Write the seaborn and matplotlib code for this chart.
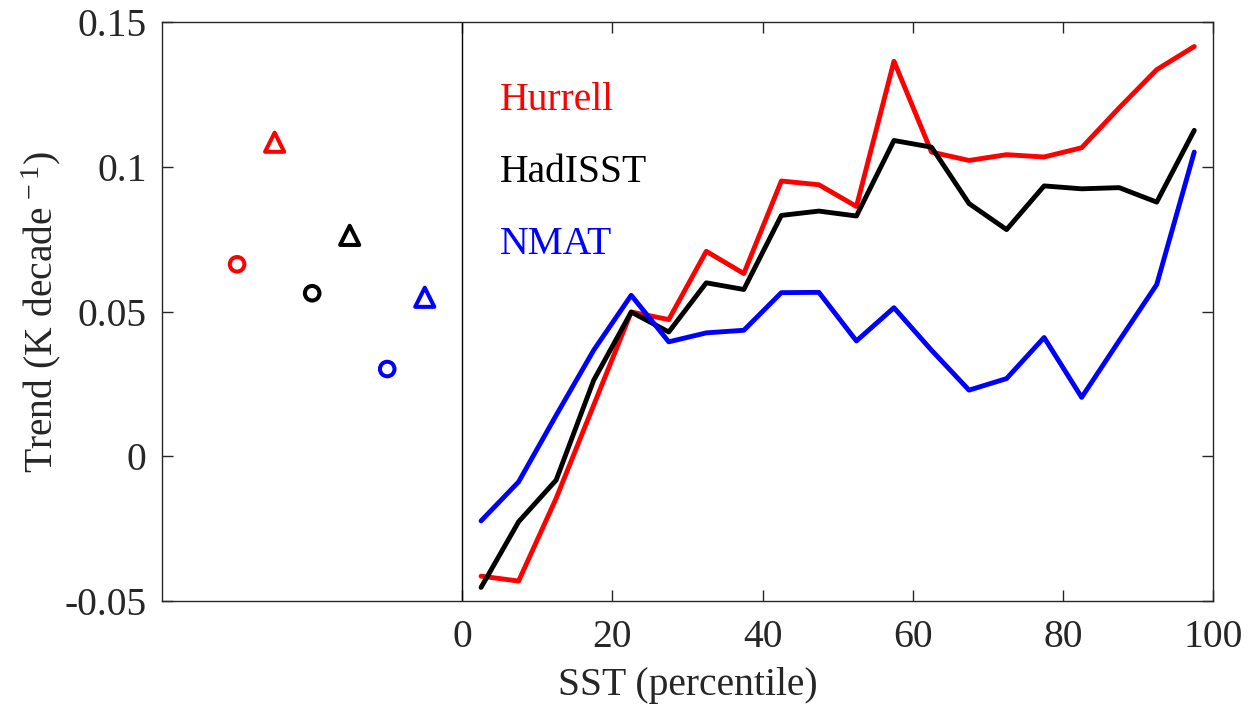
import numpy as np
import pandas as pd
import matplotlib
matplotlib.use("Agg")
import matplotlib.pyplot as plt
import seaborn as sns

# SST percentile bin centres
percentile = [2.5, 7.5, 12.5, 17.5, 22.5, 27.5, 32.5, 37.5, 42.5, 47.5,
              52.5, 57.5, 62.5, 67.5, 72.5, 77.5, 82.5, 87.5, 92.5, 97.5]

# Trend per SST percentile bin (K decade^-1)
hurrell = [-0.0414, -0.0431, -0.0145, 0.0177, 0.0499, 0.0473, 0.0709, 0.0632, 0.0952, 0.0939,
           0.0864, 0.1366, 0.1052, 0.1023, 0.1043, 0.1035, 0.1067, 0.1205, 0.1337, 0.1417]
hadisst = [-0.0453, -0.0226, -0.0082, 0.0263, 0.0499, 0.0430, 0.0600, 0.0577, 0.0833, 0.0848,
           0.0831, 0.1092, 0.1069, 0.0874, 0.0784, 0.0935, 0.0925, 0.0929, 0.0879, 0.1127]
nmat = [-0.0223, -0.0088, 0.0142, 0.0367, 0.0557, 0.0396, 0.0427, 0.0436, 0.0566, 0.0567,
        0.0399, 0.0514, 0.0367, 0.0229, 0.0269, 0.0411, 0.0204, 0.0400, 0.0594, 0.1052]

# Summary trends shown left of zero: (x position, value) for circle and triangle
datasets = ["Hurrell", "HadISST", "NMAT"]
colors = ["#ff0000", "#000000", "#0000ff"]
circle_x = [-30, -20, -10]
circle_y = [0.0664, 0.0564, 0.0302]
triangle_x = [-25, -15, -5]
triangle_y = [0.1086, 0.0764, 0.0550]

# Label positions for the dataset names
label_x = 5
label_y = [0.1231, 0.0981, 0.0733]

FS = 28.5

sns.set_theme(style="ticks")
plt.rcParams["font.family"] = ["Liberation Serif", "DejaVu Serif"]
plt.rcParams["mathtext.fontset"] = "custom"
plt.rcParams["mathtext.rm"] = "Liberation Serif"
plt.rcParams["mathtext.it"] = "Liberation Serif:italic"
plt.rcParams["axes.unicode_minus"] = False

fig = plt.figure(figsize=(12.53, 7.09), dpi=100)
ax = fig.add_axes([0.1293, 0.1523, 0.8388, 0.8160])

df = pd.DataFrame({
    "percentile": percentile * 3,
    "trend": hurrell + hadisst + nmat,
    "dataset": ["Hurrell"] * 20 + ["HadISST"] * 20 + ["NMAT"] * 20,
})
sns.lineplot(data=df, x="percentile", y="trend", hue="dataset",
             palette=dict(zip(datasets, colors)), hue_order=datasets,
             linewidth=3.5, legend=False, ax=ax)

for i in range(3):
    sns.scatterplot(x=[circle_x[i]], y=[circle_y[i]], marker="o", s=110,
                    facecolor="none", edgecolor=colors[i], linewidth=2.9, ax=ax, zorder=3)
    sns.scatterplot(x=[triangle_x[i]], y=[triangle_y[i]], marker="^", s=190,
                    facecolor="none", edgecolor=colors[i], linewidth=2.9, ax=ax, zorder=3)
    ax.text(label_x, label_y[i], datasets[i], color=colors[i], fontsize=FS,
            ha="left", va="center")

ax.axvline(0, color="black", linewidth=1.0)

ax.set_xlim(-40, 100)
ax.set_ylim(-0.05, 0.15)
ax.set_xticks([0, 20, 40, 60, 80, 100])
ax.set_yticks([-0.05, 0, 0.05, 0.1, 0.15])
ax.set_yticklabels(["-0.05", "0", "0.05", "0.1", "0.15"])

ax.tick_params(direction="in", top=True, right=True, length=8, width=1,
               color="#262626", labelsize=FS, labelcolor="#262626")
ax.tick_params(axis="x", pad=13)
ax.tick_params(axis="y", pad=11)
for sp in ax.spines.values():
    sp.set_visible(True)
    sp.set_color("#262626")
    sp.set_linewidth(1.0)

ax.set_xlabel("SST (percentile)", fontsize=FS, color="#262626", labelpad=8)
ax.set_ylabel("Trend (K decade$^{\\,-1}$)", fontsize=FS, color="#262626", labelpad=1)

fig.savefig("out.png", dpi=100, facecolor="white")
